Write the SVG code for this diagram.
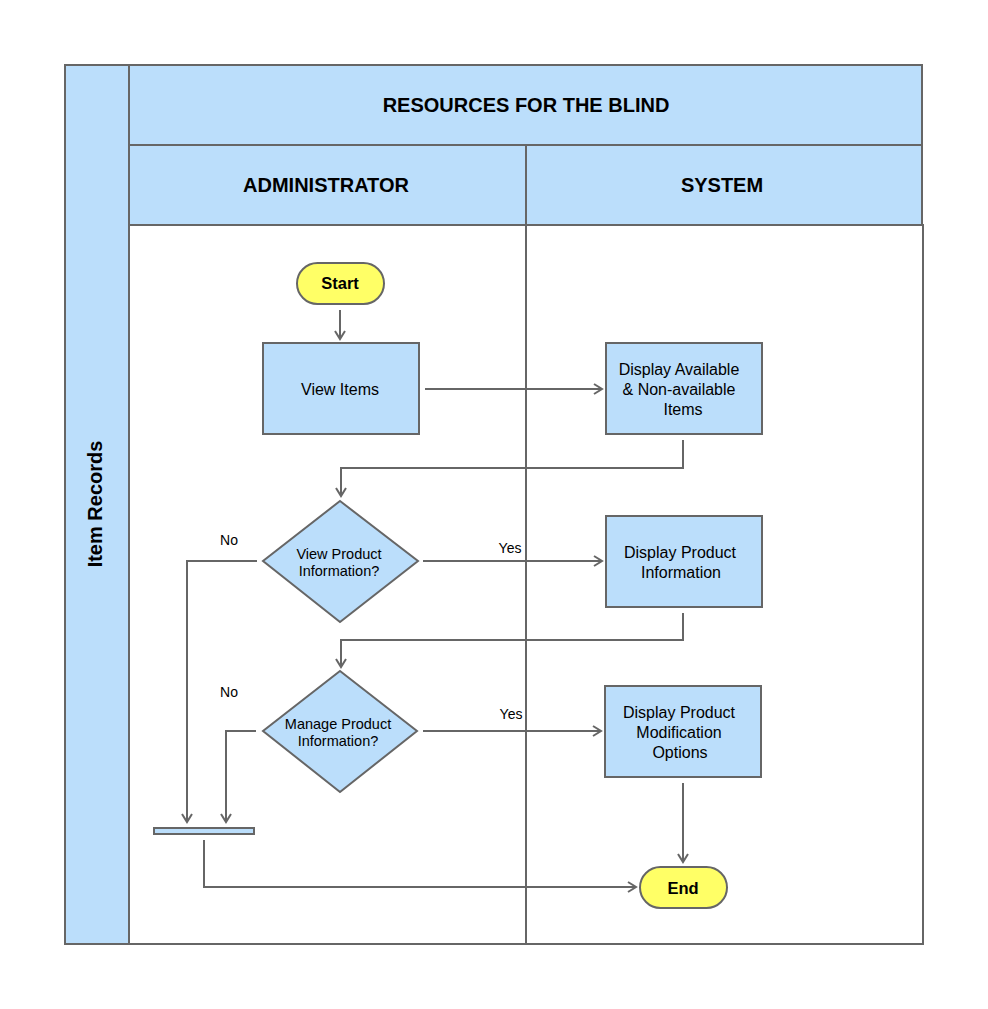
<svg xmlns="http://www.w3.org/2000/svg" width="988" height="1009" viewBox="0 0 988 1009">
<defs>
<style>
.lane{fill:#bbdefb;stroke:#666;stroke-width:2}
.body{fill:#fff;stroke:#666;stroke-width:2}
.box{fill:#bbdefb;stroke:#666;stroke-width:2}
.term{fill:#ffff66;stroke:#666;stroke-width:2}
.con{fill:none;stroke:#666;stroke-width:2}
text{font-family:"Liberation Sans",Arial,sans-serif;fill:#000;text-anchor:middle}
.h{font-size:20px;font-weight:bold}
.t{font-size:16px}
.d{font-size:14.5px}
.tb{font-size:16.5px;font-weight:bold}
.l{font-size:14px}
</style>
<marker id="arr" markerWidth="12" markerHeight="12" refX="10" refY="6" orient="auto" markerUnits="userSpaceOnUse">
<path d="M2,1 L10,6 L2,11" fill="none" stroke="#666" stroke-width="2"/>
</marker>
</defs>
<g id="pool">
<rect class="lane" x="65" y="65" width="64" height="879"/>
<rect class="lane" x="129" y="65" width="793" height="80"/>
<rect class="lane" x="129" y="145" width="397" height="80"/>
<rect class="lane" x="526" y="145" width="396" height="80"/>
<rect class="body" x="129" y="225" width="397" height="719"/>
<rect class="body" x="526" y="225" width="397" height="719"/>
<text class="h" x="97" y="504" transform="rotate(-90 97 504)" dominant-baseline="middle">Item Records</text>
<text class="h" x="526" y="112">RESOURCES FOR THE BLIND</text>
<text class="h" x="326" y="192">ADMINISTRATOR</text>
<text class="h" x="722" y="192">SYSTEM</text>
</g>
<g id="connectors">
<path class="con" d="M340,310 V339" marker-end="url(#arr)"/>
<path class="con" d="M425,389 H602" marker-end="url(#arr)"/>
<path class="con" d="M683,440 V468 H341 V496" marker-end="url(#arr)"/>
<path class="con" d="M423,561 H602" marker-end="url(#arr)"/>
<path class="con" d="M257,561 H187 V822" marker-end="url(#arr)"/>
<path class="con" d="M683,613 V640 H341 V667" marker-end="url(#arr)"/>
<path class="con" d="M423,731 H601" marker-end="url(#arr)"/>
<path class="con" d="M256,731 H226 V822" marker-end="url(#arr)"/>
<path class="con" d="M683,783 V862" marker-end="url(#arr)"/>
<path class="con" d="M204,840 V887 H636" marker-end="url(#arr)"/>
<text class="l" x="510" y="553">Yes</text>
<text class="l" x="229" y="545">No</text>
<text class="l" x="511" y="719">Yes</text>
<text class="l" x="229" y="697">No</text>
</g>
<g id="start">
<rect class="term" x="297" y="263" width="87" height="41" rx="20.5"/>
<text class="tb" x="340" y="289">Start</text>
</g>
<g id="view-items">
<rect class="box" x="263" y="343" width="156" height="91"/>
<text class="t" x="340" y="395">View Items</text>
</g>
<g id="display-available">
<rect class="box" x="606" y="343" width="156" height="91"/>
<text class="t" x="679" y="375">Display Available</text>
<text class="t" x="679" y="395">&amp; Non-available</text>
<text class="t" x="683" y="415">Items</text>
</g>
<g id="view-product">
<polygon class="box" points="340,501 418,561 340,622 263,561"/>
<text class="d" x="339" y="559">View Product</text>
<text class="d" x="339" y="576">Information?</text>
</g>
<g id="display-product">
<rect class="box" x="606" y="516" width="156" height="91"/>
<text class="t" x="680" y="558">Display Product</text>
<text class="t" x="681" y="578">Information</text>
</g>
<g id="manage-product">
<polygon class="box" points="340,671 417,731 340,792 263,731"/>
<text class="d" x="338" y="729">Manage Product</text>
<text class="d" x="338" y="746">Information?</text>
</g>
<g id="display-modification">
<rect class="box" x="605" y="686" width="156" height="91"/>
<text class="t" x="679" y="718">Display Product</text>
<text class="t" x="679" y="738">Modification</text>
<text class="t" x="680" y="758">Options</text>
</g>
<g id="merge-bar">
<rect class="box" x="154" y="828" width="100" height="6"/>
</g>
<g id="end">
<rect class="term" x="640" y="867" width="87" height="41" rx="20.5"/>
<text class="tb" x="683" y="894">End</text>
</g>
</svg>
